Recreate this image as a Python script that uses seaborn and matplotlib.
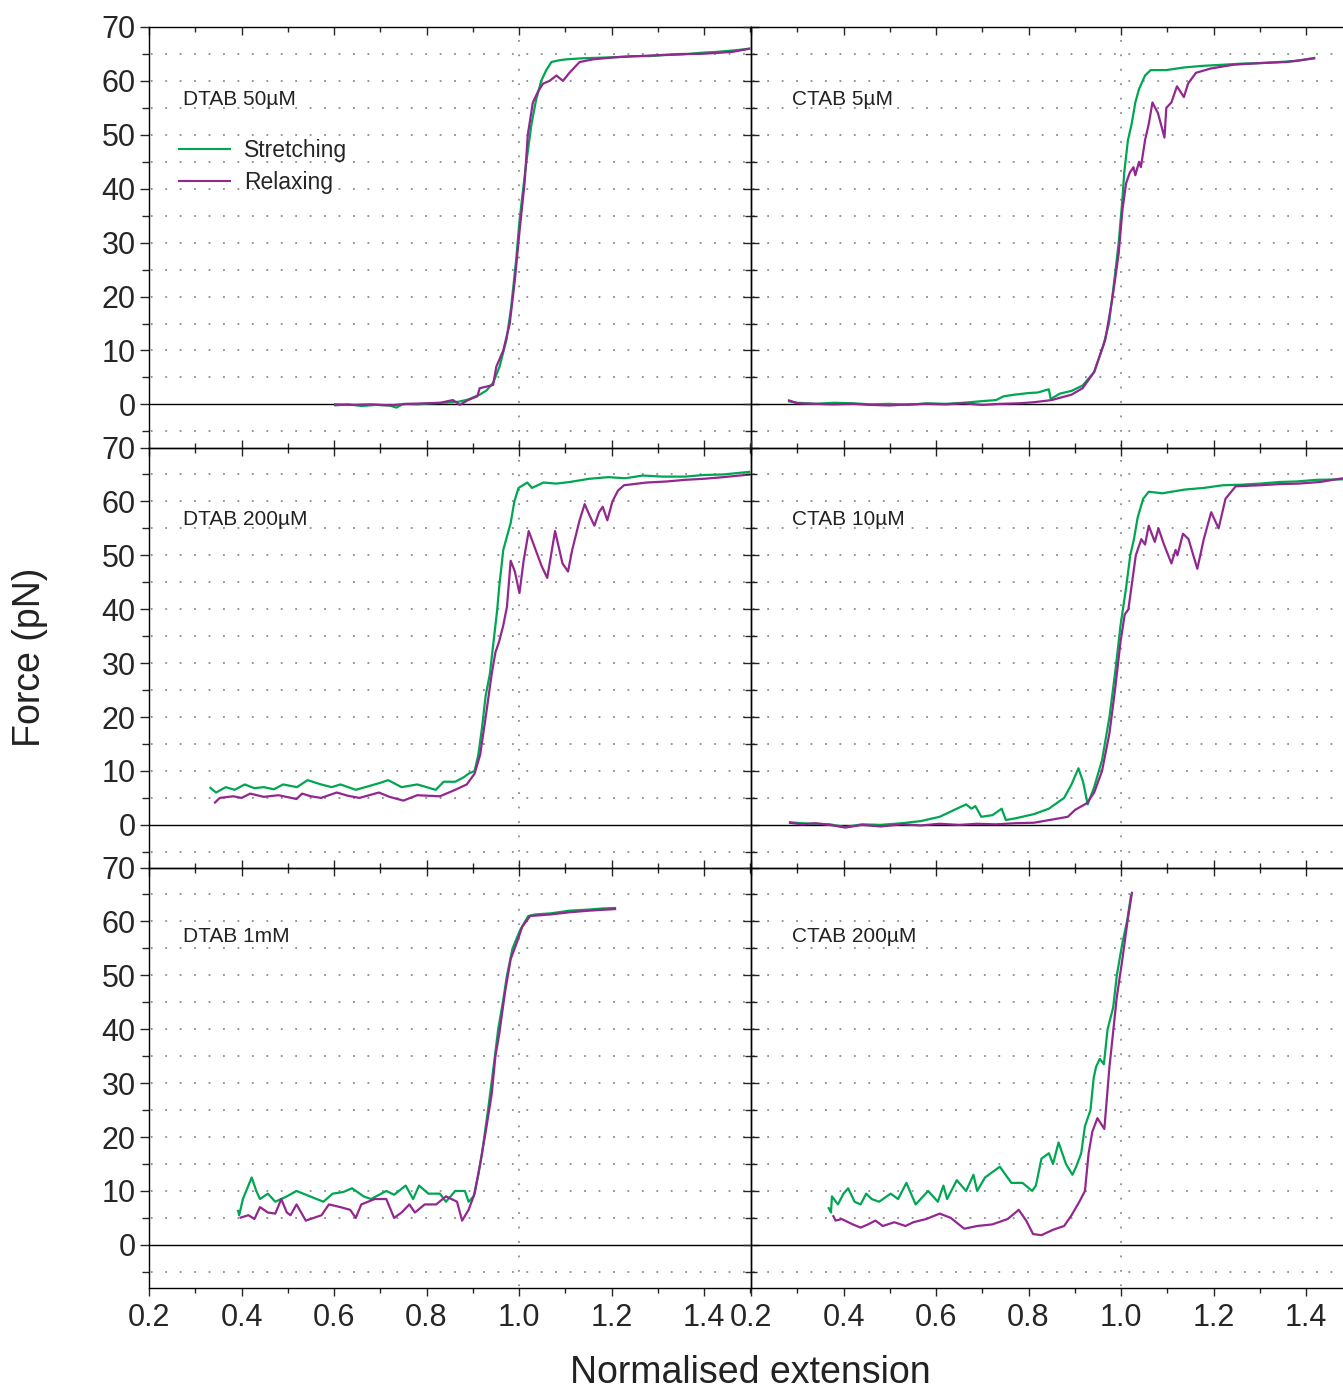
import numpy as np
import pandas as pd
import matplotlib
matplotlib.use("Agg")
import matplotlib.pyplot as plt
from matplotlib.lines import Line2D
import seaborn as sns

# ---------------- data ----------------
panel_labels = ["DTAB 50µM", "CTAB 5µM", "DTAB 200µM", "CTAB 10µM", "DTAB 1mM", "CTAB 200µM"]
series_names = ["Stretching", "Relaxing"]

# DTAB 50 uM
dtab50_s_x = [0.600, 0.630, 0.660, 0.690, 0.720, 0.735, 0.750, 0.780, 0.810, 0.840, 0.870, 0.890, 0.915, 0.930,
              0.944, 0.958, 0.973, 0.983, 0.994, 1.001, 1.009, 1.016, 1.027, 1.037, 1.048, 1.059, 1.070, 1.085,
              1.102, 1.138, 1.174, 1.210, 1.246, 1.282, 1.318, 1.354, 1.390, 1.430, 1.470, 1.500]
dtab50_s_f = [-0.2, 0.0, -0.3, -0.1, -0.2, -0.6, 0.1, 0.0, 0.2, 0.3, 0.5, 0.9, 1.8, 2.6,
              4.0, 7.0, 12.0, 18.0, 27.0, 34.0, 40.0, 45.0, 52.0, 56.5, 60.0, 62.0, 63.5, 63.8,
              64.0, 64.2, 64.3, 64.4, 64.6, 64.6, 64.8, 64.9, 65.2, 65.4, 65.7, 66.0]
dtab50_r_x = [0.600, 0.640, 0.680, 0.720, 0.760, 0.800, 0.830, 0.857, 0.872, 0.890, 0.910, 0.915, 0.930, 0.944,
              0.951, 0.966, 0.980, 0.991, 1.001, 1.012, 1.019, 1.030, 1.041, 1.052, 1.066, 1.081, 1.095, 1.109,
              1.131, 1.160, 1.210, 1.282, 1.354, 1.390, 1.430, 1.462, 1.500]
dtab50_r_f = [0.0, -0.1, 0.0, -0.2, 0.1, 0.2, 0.3, 0.8, -0.1, 0.8, 1.5, 3.0, 3.3, 3.6,
              7.0, 10.0, 15.0, 23.0, 32.0, 41.0, 50.0, 56.0, 58.0, 59.5, 60.0, 61.0, 60.0, 61.5,
              63.5, 64.0, 64.4, 64.7, 65.0, 65.0, 65.2, 65.4, 66.0]

# CTAB 5 uM
ctab5_s_x = [0.280, 0.300, 0.340, 0.380, 0.420, 0.460, 0.500, 0.540, 0.580, 0.620, 0.660, 0.700, 0.730, 0.746,
             0.770, 0.800, 0.820, 0.844, 0.848, 0.868, 0.893, 0.917, 0.942, 0.962, 0.974, 0.987, 0.995, 1.003,
             1.007, 1.015, 1.023, 1.031, 1.039, 1.052, 1.064, 1.097, 1.137, 1.178, 1.220, 1.260, 1.300, 1.340,
             1.380, 1.420]
ctab5_s_f = [0.6, 0.3, 0.1, 0.3, 0.2, 0.0, 0.1, -0.1, 0.2, 0.1, 0.3, 0.6, 0.8, 1.5,
             1.8, 2.1, 2.2, 2.8, 1.0, 2.0, 2.5, 3.5, 6.0, 11.0, 15.0, 24.0, 30.0, 38.0,
             43.0, 49.0, 52.0, 56.0, 58.5, 61.0, 62.0, 62.0, 62.5, 62.8, 63.0, 63.2, 63.3, 63.5,
             63.7, 64.3]
ctab5_r_x = [0.280, 0.300, 0.340, 0.380, 0.420, 0.460, 0.500, 0.540, 0.580, 0.620, 0.660, 0.700, 0.740, 0.780,
             0.812, 0.850, 0.893, 0.917, 0.942, 0.966, 0.982, 0.995, 1.003, 1.011, 1.019, 1.027, 1.031, 1.039,
             1.043, 1.052, 1.060, 1.068, 1.080, 1.094, 1.098, 1.109, 1.121, 1.136, 1.145, 1.162, 1.194, 1.243,
             1.300, 1.357, 1.420]
ctab5_r_f = [0.8, 0.2, 0.1, 0.0, 0.1, -0.1, -0.2, 0.0, 0.1, 0.0, 0.2, -0.1, 0.1, 0.2,
             0.4, 0.8, 1.8, 3.0, 6.0, 12.0, 20.0, 28.0, 36.0, 41.0, 43.0, 44.0, 42.5, 45.0,
             44.0, 49.0, 52.0, 56.0, 54.0, 49.5, 55.0, 56.0, 59.0, 57.0, 59.5, 61.5, 62.3, 63.0,
             63.3, 63.5, 64.2]

# DTAB 200 uM
dtab200_s_x = [0.331, 0.345, 0.366, 0.385, 0.407, 0.428, 0.448, 0.470, 0.490, 0.520, 0.543, 0.572, 0.595, 0.614,
               0.647, 0.680, 0.700, 0.717, 0.746, 0.780, 0.800, 0.820, 0.837, 0.862, 0.880, 0.891, 0.904, 0.912,
               0.920, 0.928, 0.937, 0.945, 0.953, 0.957, 0.966, 0.974, 0.982, 0.990, 0.999, 1.018, 1.028, 1.053,
               1.080, 1.110, 1.152, 1.193, 1.230, 1.268, 1.310, 1.359, 1.400, 1.442, 1.500]
dtab200_s_f = [7.0, 6.0, 7.0, 6.5, 7.5, 6.8, 7.0, 6.6, 7.5, 7.0, 8.3, 7.5, 7.0, 7.5,
               6.5, 7.3, 7.8, 8.3, 7.0, 7.5, 7.0, 6.5, 8.0, 8.0, 8.8, 9.5, 10.0, 13.0,
               18.0, 24.0, 28.0, 34.0, 40.0, 44.0, 51.0, 53.5, 56.0, 60.0, 62.5, 63.5, 62.5, 63.5,
               63.3, 63.6, 64.2, 64.5, 64.3, 64.8, 64.6, 64.6, 64.9, 65.0, 65.5]
dtab200_r_x = [0.341, 0.353, 0.382, 0.400, 0.419, 0.448, 0.480, 0.519, 0.531, 0.550, 0.572, 0.606, 0.630, 0.655,
               0.697, 0.720, 0.750, 0.780, 0.829, 0.862, 0.887, 0.904, 0.916, 0.928, 0.941, 0.949, 0.957, 0.966,
               0.974, 0.982, 0.991, 1.001, 1.010, 1.021, 1.036, 1.049, 1.061, 1.078, 1.094, 1.106, 1.115, 1.131,
               1.142, 1.152, 1.163, 1.173, 1.181, 1.191, 1.202, 1.214, 1.227, 1.276, 1.320, 1.359, 1.400, 1.442,
               1.500]
dtab200_r_f = [4.0, 5.0, 5.3, 5.0, 5.8, 5.2, 5.5, 4.8, 5.8, 5.3, 5.0, 6.0, 5.4, 5.0,
               6.0, 5.2, 4.5, 5.5, 5.3, 6.5, 7.5, 9.5, 13.0, 20.0, 28.0, 32.0, 34.0, 37.0,
               40.5, 49.0, 47.0, 43.0, 49.0, 54.5, 51.0, 48.0, 45.8, 54.5, 48.5, 47.0, 51.0, 56.5,
               59.5, 57.5, 55.5, 58.0, 59.0, 56.5, 60.0, 62.0, 63.0, 63.5, 63.7, 64.0, 64.2, 64.5,
               65.0]

# CTAB 10 uM
ctab10_s_x = [0.282, 0.310, 0.340, 0.370, 0.404, 0.440, 0.480, 0.526, 0.567, 0.608, 0.640, 0.665, 0.677, 0.685,
              0.698, 0.722, 0.742, 0.751, 0.771, 0.812, 0.844, 0.877, 0.893, 0.908, 0.918, 0.928, 0.942, 0.959,
              0.975, 0.987, 0.999, 1.011, 1.020, 1.028, 1.036, 1.048, 1.060, 1.089, 1.138, 1.179, 1.220, 1.260,
              1.300, 1.342, 1.380, 1.423, 1.480]
ctab10_s_f = [0.5, 0.3, 0.2, 0.1, -0.4, 0.1, 0.0, 0.3, 0.7, 1.5, 2.8, 3.8, 3.0, 3.5,
              1.5, 1.8, 3.0, 0.9, 1.2, 2.0, 3.0, 5.0, 7.5, 10.5, 8.0, 3.8, 7.0, 12.0,
              20.0, 28.0, 37.0, 44.0, 50.0, 53.0, 57.0, 60.5, 61.8, 61.5, 62.2, 62.5, 63.0, 63.1,
              63.3, 63.6, 63.7, 64.0, 64.1]
ctab10_r_x = [0.282, 0.310, 0.340, 0.370, 0.404, 0.440, 0.480, 0.526, 0.567, 0.608, 0.650, 0.689, 0.730, 0.770,
              0.812, 0.852, 0.885, 0.901, 0.926, 0.942, 0.959, 0.975, 0.987, 0.999, 1.008, 1.016, 1.024, 1.032,
              1.044, 1.052, 1.060, 1.073, 1.081, 1.093, 1.109, 1.118, 1.122, 1.134, 1.146, 1.165, 1.179, 1.195,
              1.211, 1.226, 1.248, 1.301, 1.340, 1.383, 1.430, 1.480]
ctab10_r_f = [0.4, 0.1, 0.3, 0.0, -0.5, 0.0, -0.3, 0.1, -0.1, 0.2, 0.0, 0.2, 0.1, 0.3,
              0.4, 1.0, 1.5, 2.8, 4.0, 6.0, 10.0, 17.0, 25.0, 34.0, 39.0, 40.0, 45.0, 50.0,
              53.0, 52.0, 55.5, 52.5, 55.0, 52.0, 48.5, 51.0, 50.0, 54.0, 53.0, 47.5, 53.0, 58.0,
              55.0, 60.5, 62.8, 63.0, 63.2, 63.3, 63.6, 64.3]

# DTAB 1 mM
dtab1m_s_x = [0.392, 0.395, 0.403, 0.422, 0.432, 0.440, 0.457, 0.473, 0.498, 0.519, 0.548, 0.577, 0.597, 0.620,
              0.639, 0.664, 0.680, 0.713, 0.730, 0.755, 0.771, 0.784, 0.804, 0.829, 0.842, 0.862, 0.883, 0.891,
              0.902, 0.912, 0.920, 0.933, 0.945, 0.955, 0.966, 0.974, 0.986, 1.003, 1.020, 1.036, 1.069, 1.110,
              1.152, 1.180, 1.210]
dtab1m_s_f = [6.5, 5.5, 8.5, 12.5, 10.0, 8.5, 9.5, 8.0, 9.0, 10.0, 9.0, 8.0, 9.5, 9.8,
              10.5, 9.0, 8.5, 10.0, 9.3, 11.0, 8.5, 11.0, 9.5, 9.5, 8.0, 10.0, 10.0, 8.0,
              9.0, 13.0, 17.0, 25.0, 33.0, 40.0, 45.5, 50.0, 55.0, 58.5, 61.0, 61.3, 61.5, 62.0,
              62.2, 62.4, 62.5]
dtab1m_r_x = [0.396, 0.415, 0.428, 0.440, 0.457, 0.473, 0.486, 0.498, 0.506, 0.519, 0.539, 0.556, 0.573, 0.589,
              0.614, 0.635, 0.647, 0.659, 0.688, 0.713, 0.730, 0.746, 0.763, 0.775, 0.796, 0.821, 0.842, 0.866,
              0.877, 0.891, 0.904, 0.916, 0.928, 0.941, 0.949, 0.957, 0.970, 0.982, 0.995, 1.007, 1.024, 1.069,
              1.110, 1.152, 1.210]
dtab1m_r_f = [5.0, 5.5, 4.8, 7.0, 6.0, 5.8, 8.5, 6.0, 5.5, 7.5, 4.5, 5.0, 5.5, 7.5,
              7.0, 6.5, 5.0, 7.5, 8.5, 8.5, 5.0, 6.0, 7.5, 6.0, 7.5, 7.5, 9.0, 8.0,
              4.5, 6.5, 9.5, 15.0, 21.0, 28.0, 35.0, 39.0, 47.0, 53.0, 56.0, 59.0, 61.0, 61.3,
              61.7, 62.0, 62.3]

# CTAB 200 uM
ctab200_s_x = [0.367, 0.373, 0.375, 0.388, 0.400, 0.410, 0.424, 0.437, 0.449, 0.461, 0.477, 0.502, 0.518, 0.536,
               0.556, 0.583, 0.604, 0.616, 0.624, 0.645, 0.665, 0.681, 0.689, 0.706, 0.738, 0.763, 0.787, 0.808,
               0.816, 0.828, 0.844, 0.853, 0.865, 0.881, 0.895, 0.903, 0.914, 0.922, 0.934, 0.941, 0.946, 0.954,
               0.963, 0.971, 0.983, 0.991, 1.003, 1.013, 1.022]
ctab200_s_f = [7.0, 6.0, 9.0, 7.5, 9.5, 10.5, 8.0, 7.5, 9.5, 8.5, 8.0, 9.5, 8.5, 11.5,
               7.5, 10.0, 8.0, 11.0, 8.5, 12.0, 10.0, 13.0, 10.0, 12.5, 14.5, 11.5, 11.5, 10.0,
               11.0, 16.0, 17.0, 15.0, 19.0, 15.0, 13.0, 14.5, 17.0, 22.0, 25.0, 31.0, 33.0, 34.5,
               33.5, 40.0, 44.0, 50.0, 56.0, 60.0, 65.0]
ctab200_r_x = [0.377, 0.383, 0.396, 0.420, 0.437, 0.453, 0.469, 0.485, 0.510, 0.534, 0.551, 0.579, 0.608, 0.632,
               0.661, 0.689, 0.722, 0.755, 0.779, 0.795, 0.810, 0.828, 0.853, 0.877, 0.893, 0.910, 0.922, 0.930,
               0.938, 0.949, 0.964, 0.975, 0.991, 1.003, 1.014, 1.024]
ctab200_r_f = [5.5, 4.5, 4.8, 3.8, 3.2, 3.8, 4.5, 3.5, 4.2, 3.5, 4.2, 4.8, 5.8, 5.0,
               3.0, 3.5, 3.8, 4.8, 6.5, 4.5, 2.0, 1.8, 2.8, 3.5, 5.5, 8.0, 10.0, 17.0,
               21.0, 23.5, 21.5, 33.0, 46.0, 53.0, 60.0, 65.5]

stretch_x = [dtab50_s_x, ctab5_s_x, dtab200_s_x, ctab10_s_x, dtab1m_s_x, ctab200_s_x]
stretch_f = [dtab50_s_f, ctab5_s_f, dtab200_s_f, ctab10_s_f, dtab1m_s_f, ctab200_s_f]
relax_x = [dtab50_r_x, ctab5_r_x, dtab200_r_x, ctab10_r_x, dtab1m_r_x, ctab200_r_x]
relax_f = [dtab50_r_f, ctab5_r_f, dtab200_r_f, ctab10_r_f, dtab1m_r_f, ctab200_r_f]

x_ticks = [0.2, 0.4, 0.6, 0.8, 1.0, 1.2, 1.4]
y_ticks = [0, 10, 20, 30, 40, 50, 60, 70]

# ---------------- style ----------------
sns.set_style("white")
plt.rcParams["font.family"] = ["Liberation Sans", "DejaVu Sans"]
plt.rcParams["axes.linewidth"] = 1.0
plt.rcParams["lines.solid_capstyle"] = "butt"

GREEN = "#00A651"
PURPLE = "#92278F"
DOT = "#8a8c90"

W, H = 1343, 1390
fig = plt.figure(figsize=(W / 100, H / 100), dpi=100)

col_left = [149, 751]
col_width = [602, 592]
row_top = [27, 447.5, 867.5]
row_h = 420.5
px_per_unit = 462.5
label_x = [0.2735, 0.2887]
label_y = [56.6, 56.6, 57.2]

axes = []
for i in range(6):
    r, c = divmod(i, 2)
    l, w, t = col_left[c], col_width[c], row_top[r]
    ax = fig.add_axes([l / W, 1 - (t + row_h) / H, w / W, row_h / H])
    axes.append(ax)
    ax.set_facecolor("none")
    xmax = 0.2 + w / px_per_unit

    # dotted grid
    for yv in [-5, 5, 10, 15, 20, 25, 30, 35, 40, 45, 50, 55, 60, 65]:
        ax.axhline(yv, color=DOT, lw=1.3, ls=(7, (1, 7)), zorder=0.5)
    ax.axvline(1.0, color=DOT, lw=1.3, ls=(7, (1, 7)), zorder=0.5)
    ax.axhline(0, color="black", lw=1.0, zorder=1.5)

    sns.lineplot(x=stretch_x[i], y=stretch_f[i], ax=ax, color=GREEN, lw=1.6,
                 estimator=None, sort=False, legend=False, zorder=3)
    sns.lineplot(x=relax_x[i], y=relax_f[i], ax=ax, color=PURPLE, lw=1.6,
                 estimator=None, sort=False, legend=False, zorder=4)

    ax.text(label_x[c], label_y[r], panel_labels[i], fontsize=15, ha="left", va="center",
            color="#222222", zorder=5)

    ax.set_xlabel("")
    ax.set_ylabel("")
    minor_x = [v for v in np.round(np.arange(0.3, 1.55, 0.2), 2) if v < xmax]
    ax.set_xticks(x_ticks)
    ax.set_xticks(minor_x, minor=True)
    ax.set_yticks(y_ticks)
    ax.set_yticks([-5, 5, 15, 25, 35, 45, 55, 65], minor=True)
    ax.set_xlim(0.2, xmax)
    ax.set_ylim(-8, 70)

    for s in ax.spines.values():
        s.set_color("black")
        s.set_linewidth(1.0)
    if c == 1:
        ax.spines["right"].set_visible(False)

    # x ticks
    if r == 0:
        ax.tick_params(axis="x", which="both", top=True, bottom=False, direction="in",
                       labelbottom=False)
        ax.tick_params(axis="x", which="major", length=6, width=1.0)
        ax.tick_params(axis="x", which="minor", length=3.6, width=1.0)
    elif r == 1:
        ax.tick_params(axis="x", which="both", top=True, bottom=True, direction="inout",
                       labelbottom=False)
        ax.tick_params(axis="x", which="major", length=12, width=1.0)
        ax.tick_params(axis="x", which="minor", length=7, width=1.0)
    else:
        ax.tick_params(axis="x", which="both", top=False, bottom=True, direction="out",
                       labelbottom=True, labelsize=22, pad=5)
        ax.tick_params(axis="x", which="major", length=6, width=1.0)
        ax.tick_params(axis="x", which="minor", length=3.6, width=1.0)
        ax.set_xticklabels([f"{v:.1f}" for v in x_ticks])

    # y ticks
    if c == 0:
        ax.tick_params(axis="y", which="both", left=True, right=False, direction="out",
                       labelleft=True, labelsize=22, pad=3)
        ax.tick_params(axis="y", which="major", length=6.5, width=1.0)
        ax.tick_params(axis="y", which="minor", length=5, width=1.0)
        ax.set_yticklabels([str(v) for v in y_ticks])
    else:
        ax.tick_params(axis="y", which="both", left=True, right=False, direction="inout",
                       labelleft=False)
        ax.tick_params(axis="y", which="major", length=12, width=1.0)
        ax.tick_params(axis="y", which="minor", length=8, width=1.0)

# legend in first panel
handles = [Line2D([], [], color=GREEN, lw=1.5), Line2D([], [], color=PURPLE, lw=1.5)]
axes[0].legend(handles, series_names, loc="upper left", bbox_to_anchor=(0.048, 0.733),
               frameon=False, fontsize=16.5, handlelength=2.3, handletextpad=0.6,
               labelspacing=0.36, borderpad=0, borderaxespad=0)

fig.text(30 / W, 1 - 657 / H, "Force (pN)", rotation=90, ha="center", va="center", fontsize=27,
         color="#222222")
fig.text(750 / W, 1 - 1373 / H, "Normalised extension", ha="center", va="center", fontsize=27,
         color="#222222")

fig.savefig("out.png", dpi=100)
